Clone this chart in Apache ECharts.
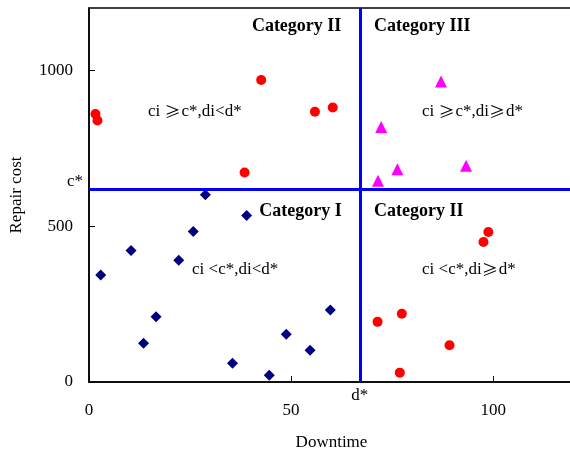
<!DOCTYPE html>
<html>
<head>
<meta charset="utf-8">
<script src="https://cdn.jsdelivr.net/npm/echarts@6/dist/echarts.min.js"></script>
<style>
  html, body { margin: 0; padding: 0; background: #fff; }
  #main { width: 570px; height: 450px; }
</style>
</head>
<body>
<div id="main"></div>
<script>
// points: [downtime, repair cost]
var catOneLow = [
    [2.9, 343], [10.4, 422], [13.5, 124], [16.6, 209], [22.2, 391], [25.8, 483],
    [28.8, 601], [35.5, 60], [39.0, 534], [44.6, 22], [48.8, 153], [54.7, 102], [59.7, 231]
];
var catTwoHighCost = [
    [1.6, 860], [2.1, 839], [38.5, 672], [42.6, 969], [55.9, 867], [60.3, 881]
];
var catTwoLongDown = [
    [71.4, 193], [76.9, 30], [77.4, 219], [89.2, 118], [97.6, 449], [98.8, 481]
];
var catThree = [
    [71.5, 646], [72.3, 818], [76.3, 683], [87.1, 964], [93.3, 694]
];
var cStar = 618;
var dStar = 67;
var xTicks = [0, 50, 100];
var yTicks = [0, 500, 1000];

var font = 'Liberation Serif';
var chart = echarts.init(document.getElementById('main'));

function note(x, y, text, bold) {
    return {
        value: [x, y],
        label: {
            show: true,
            formatter: text,
            position: 'inside',
            align: 'left',
            verticalAlign: 'middle',
            fontFamily: font,
            fontSize: bold ? 18 : 17,
            fontWeight: bold ? 'bold' : 'normal',
            color: '#000',
            rich: {
                t: { fontFamily: font, fontSize: 17, color: '#000' },
                g: { fontFamily: 'Noto Sans CJK SC', fontSize: 16, color: '#000', padding: [0, 1, 0, 0] }
            }
        }
    };
}

option = {
    animation: false,
    backgroundColor: '#fff',
    grid: {
        left: 89,
        top: 8,
        width: 485,
        bottom: 68,
        outerBoundsMode: 'none',
        containLabel: false,
        show: true,
        borderColor: '#000',
        borderWidth: 1.5
    },
    xAxis: {
        type: 'value',
        min: 0,
        max: 120,
        interval: 50,
        name: 'Downtime',
        nameLocation: 'middle',
        nameGap: 52,
        nameTextStyle: { fontFamily: font, fontSize: 17, color: '#000' },
        splitLine: { show: false },
        axisLine: { lineStyle: { color: '#000', width: 1.5 } },
        axisTick: { inside: true, length: 6, lineStyle: { color: '#000' } },
        axisLabel: {
            margin: 20,
            fontFamily: font,
            fontSize: 17,
            color: '#000',
            showMaxLabel: false,
            formatter: function (v) { return xTicks.indexOf(v) >= 0 ? v : ''; }
        }
    },
    yAxis: {
        type: 'value',
        min: 0,
        max: 1200,
        interval: 500,
        name: 'Repair cost',
        nameLocation: 'middle',
        nameGap: 64,
        nameTextStyle: { fontFamily: font, fontSize: 17, color: '#000' },
        splitLine: { show: false },
        axisLine: { lineStyle: { color: '#000', width: 1.5 } },
        axisTick: { inside: true, length: 6, lineStyle: { color: '#000' } },
        axisLabel: {
            margin: 16,
            fontFamily: font,
            fontSize: 17,
            color: '#000',
            showMaxLabel: false,
            formatter: function (v) { return yTicks.indexOf(v) >= 0 ? v : ''; }
        }
    },
    series: [
        {
            name: 'Category I',
            type: 'scatter',
            symbol: 'diamond',
            symbolSize: 11,
            itemStyle: { color: '#000080', opacity: 1 },
            data: catOneLow,
            z: 3,
            markLine: {
                silent: true,
                symbol: 'none',
                animation: false,
                lineStyle: { color: '#0000ff', width: 3, type: 'solid', opacity: 1 },
                data: [
                    {
                        yAxis: cStar,
                        label: {
                            show: true, position: 'start', formatter: 'c*', distance: 6,
                            offset: [0, -8], fontFamily: font, fontSize: 17, color: '#000'
                        }
                    },
                    {
                        xAxis: dStar,
                        label: {
                            show: true, position: 'start', formatter: 'd*', distance: 5,
                            fontFamily: font, fontSize: 17, color: '#000'
                        }
                    }
                ]
            }
        },
        {
            name: 'Category II',
            type: 'scatter',
            symbol: 'circle',
            symbolSize: 10,
            itemStyle: { color: '#ff0000', opacity: 1 },
            data: catTwoHighCost.concat(catTwoLongDown),
            z: 3
        },
        {
            name: 'Category III',
            type: 'scatter',
            symbol: 'triangle',
            symbolSize: 12,
            itemStyle: { color: '#ff00ff', opacity: 1 },
            data: catThree,
            z: 3
        },
        {
            // region captions
            type: 'scatter',
            symbolSize: 0,
            silent: true,
            itemStyle: { opacity: 1 },
            data: [
                note(40.3, 1140, 'Category II', true),
                note(70.5, 1140, 'Category III', true),
                note(42.1, 549, 'Category I', true),
                note(70.5, 546, 'Category II', true),
                note(14.6, 867, '{t|ci }{g|\u2265}{t|c*,di<d*}'),
                note(82.4, 867, '{t|ci }{g|\u2265}{t|c*,di}{g|\u2265}{t|d*}'),
                note(25.5, 360, 'ci <c*,di<d*'),
                note(82.4, 360, '{t|ci <c*,di}{g|\u2265}{t|d*}')
            ]
        }
    ]
};

chart.setOption(option);
</script>
</body>
</html>
